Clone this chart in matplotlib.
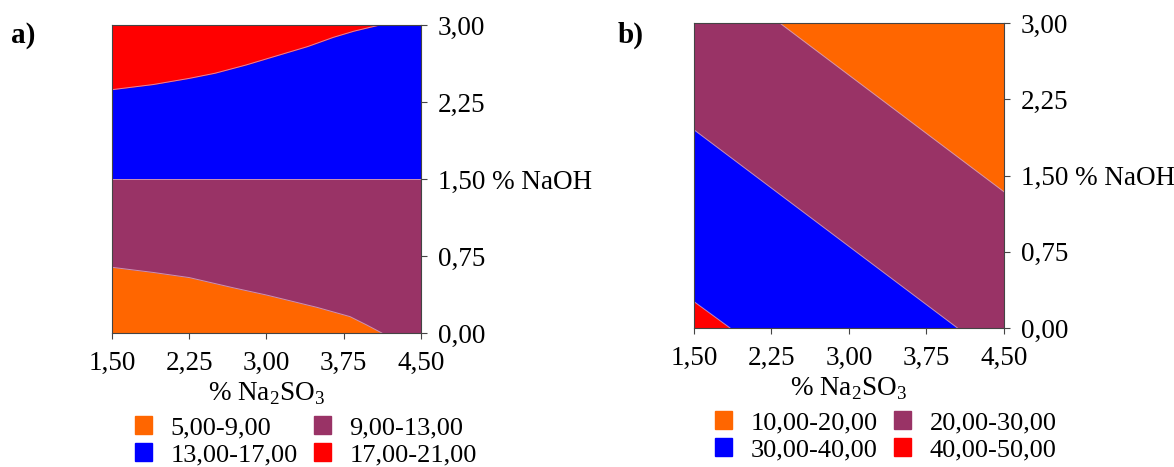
import matplotlib
matplotlib.use("Agg")
import matplotlib.pyplot as plt
from matplotlib.patches import Patch

plt.rcParams['font.family'] = ['Liberation Serif', 'DejaVu Serif']
plt.rcParams['mathtext.fontset'] = 'custom'
plt.rcParams['mathtext.rm'] = 'Liberation Serif'

# colours of the level bands
ORANGE = '#FF6600'
PURPLE = '#993366'
BLUE = '#0000FF'
RED = '#FF0000'
EDGE = '#d8a8c8'

x_ticks = [1.50, 2.25, 3.00, 3.75, 4.50]
y_ticks = [0.00, 0.75, 1.50, 2.25, 3.00]
x_labels = ['1,50', '2,25', '3,00', '3,75', '4,50']
y_labels = ['0,00', '0,75', '1,50 % NaOH', '2,25', '3,00']

# panel a: contour lines
a_split_y = 1.50                     # jump from 9-13 band to 13-17 band
a_c9_x = [1.50, 1.90, 2.25, 2.68, 3.00, 3.49, 3.81, 3.97, 4.12]
a_c9_y = [0.64, 0.59, 0.54, 0.44, 0.37, 0.25, 0.16, 0.08, 0.00]
a_c17_x = [1.50, 1.90, 2.25, 2.50, 2.80, 3.10, 3.40, 3.65, 3.85, 4.10]
a_c17_y = [2.37, 2.42, 2.48, 2.53, 2.61, 2.70, 2.79, 2.88, 2.94, 3.00]
a_levels = ['5,00-9,00', '9,00-13,00', '13,00-17,00', '17,00-21,00']

# panel b: contour lines
b_c20_x = [2.33, 4.50]
b_c20_y = [3.00, 1.34]
b_c30_x = [1.50, 4.05]
b_c30_y = [1.95, 0.00]
b_c40_x = [1.50, 1.85]
b_c40_y = [0.26, 0.00]
b_levels = ['10,00-20,00', '20,00-30,00', '30,00-40,00', '40,00-50,00']

fig = plt.figure(figsize=(11.74, 4.67), dpi=100)
ax_a = fig.add_axes([0.0954, 0.2869, 0.2632, 0.6596])
ax_b = fig.add_axes([0.5911, 0.2976, 0.2641, 0.6531])

# panel a
ax_a.fill_between([1.5, 4.5], 0, a_split_y, color=PURPLE, lw=0)
ax_a.fill_between([1.5, 4.5], a_split_y, 3, color=BLUE, lw=0)
ax_a.fill_between(a_c9_x, 0, a_c9_y, color=ORANGE, lw=0)
ax_a.fill_between(a_c17_x, a_c17_y, 3, color=RED, lw=0)
ax_a.plot(a_c9_x, a_c9_y, color=EDGE, lw=0.7, alpha=0.8)
ax_a.plot(a_c17_x, a_c17_y, color=EDGE, lw=0.7, alpha=0.8)
ax_a.plot([1.5, 4.5], [a_split_y, a_split_y], color=EDGE, lw=0.7, alpha=0.8)

# panel b
ax_b.fill_between([1.5, 4.5], 0, 3, color=PURPLE, lw=0)
ax_b.fill_between(b_c30_x, 0, b_c30_y, color=BLUE, lw=0)
ax_b.fill_between(b_c20_x, b_c20_y, 3, color=ORANGE, lw=0)
ax_b.fill_between(b_c40_x, 0, b_c40_y, color=RED, lw=0)
for cx, cy in [(b_c20_x, b_c20_y), (b_c30_x, b_c30_y), (b_c40_x, b_c40_y)]:
    ax_b.plot(cx, cy, color=EDGE, lw=0.7, alpha=0.8)

for ax in (ax_a, ax_b):
    ax.set_xlim(1.5, 4.5)
    ax.set_ylim(0, 3)
    ax.set_xticks(x_ticks)
    ax.set_xticklabels(x_labels, fontsize=19.5)
    ax.yaxis.tick_right()
    ax.set_yticks(y_ticks)
    ax.set_yticklabels(y_labels, fontsize=19.5)
    ax.tick_params(direction='out', length=4, width=0.8, color='#444444', pad=9)
    ax.tick_params(axis='y', pad=8)
    for s in ax.spines.values():
        s.set_color('#444444')
        s.set_linewidth(0.8)
    ax.set_xlabel('% Na$_\\mathregular{2}$SO$_\\mathregular{3}$', fontsize=19.5, labelpad=3)

fig.text(0.009, 0.925, 'a)', fontsize=21, fontweight='bold', va='center')
fig.text(0.526, 0.925, 'b)', fontsize=21, fontweight='bold', va='center')

# matplotlib fills legend columns first, so order handles to read row by row
order = [0, 2, 1, 3]
colors = [ORANGE, PURPLE, BLUE, RED]
a_handles = [Patch(color=colors[i], label=a_levels[i]) for i in order]
b_handles = [Patch(color=colors[i], label=b_levels[i]) for i in order]
legend_kw = dict(ncol=2, frameon=False, fontsize=19, handlelength=0.65, handleheight=0.65,
                 handletextpad=0.7, columnspacing=0.6, labelspacing=0.15, borderpad=0,
                 loc='upper left')
fig.legend(handles=a_handles, bbox_to_anchor=(122 / 1174, 1 - 403 / 467), **legend_kw)
fig.legend(handles=b_handles, bbox_to_anchor=(702 / 1174, 1 - 398 / 467), **legend_kw)

fig.savefig('out.png', dpi=100)
